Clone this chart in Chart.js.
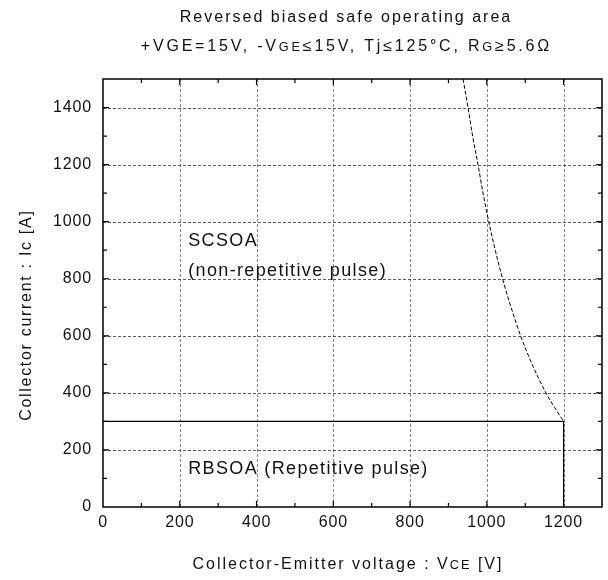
<!DOCTYPE html>
<html>
<head>
<meta charset="utf-8">
<script src="https://cdn.jsdelivr.net/npm/chart.js@4/dist/chart.umd.min.js"></script>
<style>
html,body{margin:0;padding:0;background:#fff;}
#wrap{width:608px;height:580px;position:relative;}
</style>
</head>
<body>
<div id="wrap"><canvas id="c" width="608" height="580"></canvas></div>
<script>
// Data
const scsoaVce = [938, 951, 963, 977, 990, 1005, 1022, 1041, 1063, 1088, 1118, 1154, 1176, 1200];
const scsoaIc  = [1500, 1400, 1300, 1200, 1100, 1000, 900, 800, 700, 600, 500, 400, 350, 300];
const rbsoaVce = [0, 1200, 1200];
const rbsoaIc  = [300, 300, 0];
const xTicks = [0, 200, 400, 600, 800, 1000, 1200];
const yTicks = [0, 200, 400, 600, 800, 1000, 1200, 1400];
const titleLine1 = [["Reversed biased safe operating area", 1]];
const titleLine2 = [["+VGE=15V, -V", 1], ["GE", 0.8], ["≤15V, Tj≤125°C, R", 1], ["G", 0.8], ["≥5.6Ω", 1]];
const xTitle = [["Collector-Emitter voltage : V", 1], ["CE", 0.8], [" [V]", 1]];
const yTitle = [["Collector current : Ic [A]", 1]];
const regionLabels = ["SCSOA", "(non-repetitive pulse)", "RBSOA (Repetitive pulse)"];
const regionAnchorsV = [222, 222, 222];
const regionAnchorsI = [916, 811, 116];

const FONT = '"Liberation Sans", Arial, sans-serif';
const TICK_LS = '0.85px';

function drawSegs(ctx, segs, cx, cy, size, ls) {
  ctx.letterSpacing = ls + 'px';
  let total = 0;
  const widths = segs.map(([t, s]) => {
    ctx.font = (size * s) + 'px ' + FONT;
    const w = ctx.measureText(t).width;
    total += w; return w;
  });
  let x = cx - (total - ls) / 2;
  segs.forEach(([t, s], i) => {
    ctx.font = (size * s) + 'px ' + FONT;
    ctx.fillText(t, x, cy);
    x += widths[i];
  });
}

const decor = {
  id: 'decor',
  beforeUpdate(chart) { chart.ctx.letterSpacing = TICK_LS; },
  beforeLayout(chart) { chart.ctx.letterSpacing = TICK_LS; },
  beforeDraw(chart) { chart.ctx.letterSpacing = TICK_LS; },
  beforeDatasetsDraw(chart) {
    const {ctx, chartArea: a, scales: {x, y}} = chart;
    ctx.save();
    ctx.lineWidth = 0.8;
    ctx.setLineDash([3, 2]);
    ctx.strokeStyle = '#666';
    xTicks.forEach(v => {
      if (v === 0) return;
      const px = Math.round(x.getPixelForValue(v)) + 0.5;
      ctx.beginPath(); ctx.moveTo(px, a.top); ctx.lineTo(px, a.bottom); ctx.stroke();
    });
    ctx.strokeStyle = '#333';
    yTicks.forEach(v => {
      if (v === 0) return;
      const py = Math.round(y.getPixelForValue(v)) + 0.5;
      ctx.beginPath(); ctx.moveTo(a.left, py); ctx.lineTo(a.right, py); ctx.stroke();
    });
    ctx.restore();
  },
  afterDatasetsDraw(chart) {
    const {ctx, chartArea: a, scales: {x, y}} = chart;
    ctx.save();
    // frame
    ctx.strokeStyle = '#000';
    ctx.lineWidth = 1.5;
    ctx.setLineDash([]);
    ctx.strokeRect(a.left, a.top, a.right - a.left, a.bottom - a.top);
    // inward ticks
    ctx.lineWidth = 1.2;
    for (let v = 100; v < x.max; v += 100) {
      const px = x.getPixelForValue(v);
      const len = v % 200 === 0 ? 6 : 4;
      ctx.beginPath();
      ctx.moveTo(px, a.bottom); ctx.lineTo(px, a.bottom - len);
      ctx.moveTo(px, a.top); ctx.lineTo(px, a.top + len);
      ctx.stroke();
    }
    for (let v = 100; v < y.max; v += 100) {
      const py = y.getPixelForValue(v);
      const len = v % 200 === 0 ? 6 : 4;
      ctx.beginPath();
      ctx.moveTo(a.left, py); ctx.lineTo(a.left + len, py);
      ctx.moveTo(a.right, py); ctx.lineTo(a.right - len, py);
      ctx.stroke();
    }
    // region labels
    ctx.fillStyle = '#111';
    ctx.font = '18px ' + FONT;
    ctx.letterSpacing = '1.35px';
    ctx.textAlign = 'left';
    ctx.textBaseline = 'alphabetic';
    regionLabels.forEach((t, i) => {
      ctx.fillText(t, x.getPixelForValue(regionAnchorsV[i]), y.getPixelForValue(regionAnchorsI[i]));
    });
    // titles
    ctx.textBaseline = 'middle';
    drawSegs(ctx, titleLine1, 345, 18, 16, 2.0);
    drawSegs(ctx, titleLine2, 345, 47, 16, 2.8);
    drawSegs(ctx, xTitle, 347, 565, 16, 2.0);
    ctx.translate(27, 316);
    ctx.rotate(-Math.PI / 2);
    drawSegs(ctx, yTitle, 0, 0, 16, 1.7);
    ctx.restore();
    ctx.letterSpacing = TICK_LS;
  }
};

new Chart(document.getElementById('c'), {
  type: 'scatter',
  data: {
    datasets: [
      {
        label: 'SCSOA',
        data: scsoaVce.map((v, i) => ({x: v, y: scsoaIc[i]})),
        showLine: true, borderColor: '#000', borderWidth: 1, borderDash: [4, 2],
        pointRadius: 0, cubicInterpolationMode: 'monotone', fill: false
      },
      {
        label: 'RBSOA',
        data: rbsoaVce.map((v, i) => ({x: v, y: rbsoaIc[i]})),
        showLine: true, borderColor: '#000', borderWidth: 1.2,
        pointRadius: 0, tension: 0, fill: false
      }
    ]
  },
  options: {
    responsive: false,
    animation: false,
    devicePixelRatio: 1,
    layout: {padding: {top: 79, right: 6, left: 0, bottom: 0}},
    plugins: {legend: {display: false}, tooltip: {enabled: false}, title: {display: false}},
    scales: {
      x: {
        type: 'linear', min: 0, max: 1300,
        afterBuildTicks: s => { s.ticks = xTicks.map(v => ({value: v})); },
        afterFit: s => { s.height = 73; },
        grid: {display: false, drawTicks: false},
        border: {display: false},
        ticks: {color: '#111', font: {family: FONT, size: 16}, padding: 6, maxRotation: 0, callback: v => String(v)}
      },
      y: {
        type: 'linear', min: 0, max: 1500,
        afterBuildTicks: s => { s.ticks = yTicks.map(v => ({value: v})); },
        afterFit: s => { s.width = 103; },
        grid: {display: false, drawTicks: false},
        border: {display: false},
        ticks: {color: '#111', font: {family: FONT, size: 16}, padding: 11, callback: v => String(v)}
      }
    }
  },
  plugins: [decor]
});
</script>
</body>
</html>
